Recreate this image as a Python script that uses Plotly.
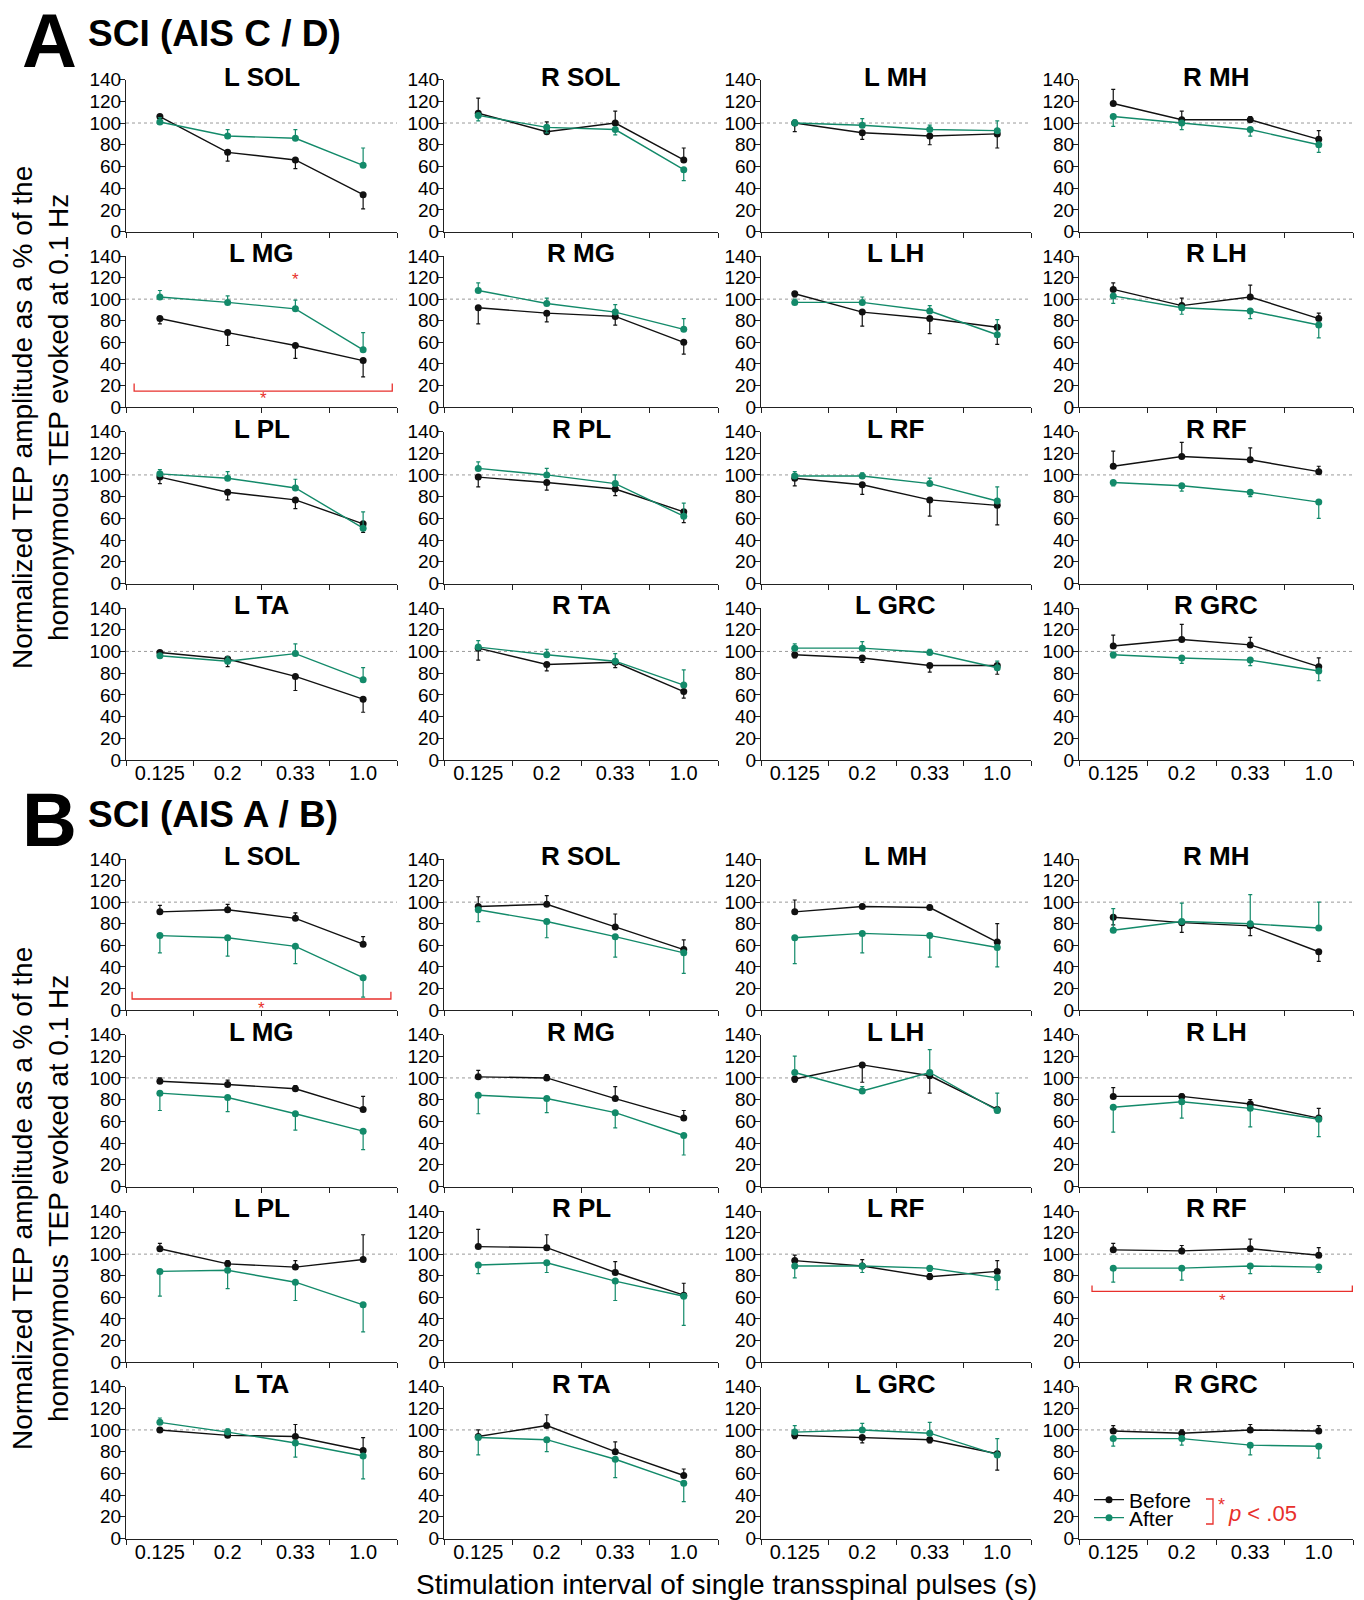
import plotly.graph_objects as go

# ---------------- data ----------------
categories = ["0.125", "0.2", "0.33", "1.0"]
muscles = ["L SOL", "R SOL", "L MH", "R MH",
           "L MG", "R MG", "L LH", "R LH",
           "L PL", "R PL", "L RF", "R RF",
           "L TA", "R TA", "L GRC", "R GRC"]

# Panel A: SCI (AIS C / D). Error values: + = bar drawn up, - = bar drawn down
A_before = [[106, 73, 66, 34], [109, 92, 100, 66], [100, 91, 88, 90], [118, 103, 103, 85],
            [82, 69, 57, 43], [92, 87, 84, 60], [105, 88, 82, 74], [109, 94, 102, 82],
            [98, 84, 77, 55], [98, 93, 87, 66], [97, 91, 77, 72], [108, 117, 114, 103],
            [99, 93, 77, 56], [103, 88, 90, 63], [97, 94, 87, 87], [105, 111, 106, 86]]
A_before_err = [[-3, -8, -8, -13], [14, 9, 11, 11], [-8, -6, -8, -13], [13, 8, 3, 8],
                [-5, -12, -12, -15], [-15, -8, -8, -11], [-3, -13, -14, -16], [6, 7, 11, 5],
                [-6, -7, -8, -8], [-9, -7, -6, -10], [-7, -9, -15, -18], [14, 13, 11, 5],
                [-2, -7, -13, -12], [-11, -6, -5, -6], [-3, -4, -6, -8], [10, 14, 7, 8]]
A_after = [[101, 88, 86, 61], [107, 96, 94, 57], [100, 98, 94, 93], [106, 100, 94, 80],
           [102, 97, 91, 53], [108, 96, 88, 72], [97, 97, 89, 67], [103, 92, 89, 76],
           [101, 97, 88, 51], [106, 100, 92, 62], [99, 99, 92, 76], [93, 90, 84, 75],
           [96, 91, 98, 74], [104, 97, 91, 69], [103, 103, 99, 85], [97, 94, 92, 82]]
A_after_err = [[4, 6, 8, 16], [-5, -5, -5, -10], [3, 6, 4, 9], [-9, -6, -6, -7],
               [6, 6, 8, 16], [7, 5, 7, 10], [3, 5, 5, 14], [-7, -6, -7, -12],
               [4, 6, 8, 15], [6, 6, 8, 12], [4, 3, 5, 13], [-3, -5, -4, -15],
               [2, 4, 9, 11], [6, 5, 7, 14], [4, 6, 3, 6], [-3, -5, -5, -9]]

# Panel B: SCI (AIS A / B)
B_before = [[91, 93, 85, 61], [96, 98, 77, 56], [91, 96, 95, 63], [86, 81, 78, 54],
            [97, 94, 90, 71], [101, 100, 81, 63], [99, 112, 102, 71], [83, 83, 76, 63],
            [105, 91, 88, 95], [107, 106, 83, 62], [94, 89, 79, 84], [104, 103, 105, 99],
            [100, 95, 94, 81], [94, 104, 80, 58], [95, 93, 91, 78], [99, 97, 100, 99]]
B_before_err = [[6, 5, 5, 7], [9, 8, 12, 9], [11, 2, 2, 17], [-7, -9, -9, -9],
                [3, 4, 3, 12], [6, 3, 11, 7], [-3, -16, -16, -3], [8, 2, 4, 9],
                [5, 3, 6, 23], [16, 12, 10, 11], [5, 6, 3, 10], [6, 5, 9, 7],
                [2, 3, 11, 12], [6, 10, 9, 6], [-3, -5, -3, -15], [5, 3, 5, 5]]
B_after = [[69, 67, 59, 30], [93, 82, 68, 53], [67, 71, 69, 58], [74, 82, 80, 76],
           [86, 82, 67, 51], [84, 81, 68, 47], [105, 88, 105, 70], [73, 78, 72, 62],
           [84, 85, 74, 53], [90, 92, 75, 61], [89, 89, 87, 78], [87, 87, 89, 88],
           [107, 98, 88, 76], [93, 91, 73, 51], [98, 100, 97, 77], [92, 92, 86, 85]]
B_after_err = [[-16, -17, -16, -18], [-11, -15, -19, -19], [-24, -18, -20, -18], [20, 17, 27, 24],
               [-16, -13, -15, -17], [-17, -13, -14, -18], [15, 4, 21, 16], [-23, -15, -17, -16],
               [-23, -17, -17, -25], [-8, -9, -18, -27], [-11, -6, -3, -11], [-13, -11, -7, -5],
               [4, 3, -13, -21], [-16, -11, -17, -17], [6, 6, 10, 15], [-7, -6, -9, -11]]

series_names = ["Before", "After"]
panel_titles = ["SCI (AIS C / D)", "SCI (AIS A / B)"]
panel_letters = ["A", "B"]
y_ticks = [0, 20, 40, 60, 80, 100, 120, 140]

# ---------------- style / layout ----------------
W, H = 1364, 1600
FONT = "Liberation Sans, Arial, Helvetica, sans-serif"
BLACK = "#111111"
GREEN = "#138a6a"
RED = "#e8302c"
AXC = "#222222"

col_px = [(126, 397), (444, 718), (761, 1031), (1079, 1353)]
row_px = [[(79.6, 231.6), (256, 407), (431.5, 583.5), (608, 760)],
          [(859, 1010), (1034.5, 1186.5), (1211, 1362), (1386.5, 1538.5)]]


def fx(x):
    return x / W


def fy(y):
    return 1 - y / H


def split_err(err):
    return [max(e, 0) for e in err], [max(-e, 0) for e in err]


fig = go.Figure()
layout = dict(width=W, height=H, margin=dict(l=0, r=0, t=0, b=0, autoexpand=False),
              paper_bgcolor="white", plot_bgcolor="white",
              font=dict(family=FONT, color="black"))
shapes = []
annotations = []

panels = [(A_before, A_before_err, A_after, A_after_err),
          (B_before, B_before_err, B_after, B_after_err)]

idx = 0
for p, (bef, beferr, aft, afterr) in enumerate(panels):
    for k, muscle in enumerate(muscles):
        idx += 1
        r, c = divmod(k, 4)
        xname = "x" if idx == 1 else f"x{idx}"
        yname = "y" if idx == 1 else f"y{idx}"
        xkey = "xaxis" if idx == 1 else f"xaxis{idx}"
        ykey = "yaxis" if idx == 1 else f"yaxis{idx}"
        x0, x1 = col_px[c]
        ytop, ybot = row_px[p][r]
        last = (idx == 32)
        for j, (name, vals, err, color) in enumerate([(series_names[0], bef[k], beferr[k], BLACK),
                                                      (series_names[1], aft[k], afterr[k], GREEN)]):
            up, down = split_err(err)
            fig.add_trace(go.Scatter(
                x=categories, y=vals, mode="lines+markers", name=name,
                xaxis=xname, yaxis=yname, showlegend=last,
                legend="legend" if j == 0 else "legend2",
                line=dict(color=color, width=1.4),
                marker=dict(color=color, size=7, symbol="circle"),
                error_y=dict(type="data", symmetric=False, array=up, arrayminus=down,
                             color=color, thickness=1.2, width=2),
                cliponaxis=False,
            ))
        bottom_row = (r == 3)
        layout[xkey] = dict(domain=[fx(x0), fx(x1)], anchor=yname, type="category",
                            range=[-0.5, 3.5], showline=True, linecolor=AXC, linewidth=1.2,
                            ticks="outside", tickson="boundaries", ticklen=5, tickcolor=AXC,
                            showgrid=False, zeroline=False, showticklabels=bottom_row,
                            ticklabelstandoff=-5,
                            tickfont=dict(size=20, family=FONT, color="black"),
                            fixedrange=True)
        layout[ykey] = dict(domain=[fy(ybot), fy(ytop)], anchor=xname, range=[0, 140],
                            tickmode="array", tickvals=y_ticks, showline=True,
                            linecolor=AXC, linewidth=1.2, ticks="outside", ticklen=5,
                            tickcolor=AXC, showgrid=False, zeroline=False,
                            ticklabelstandoff=-5,
                            tickfont=dict(size=19, family=FONT, color="black"),
                            fixedrange=True)
        # reference line at 100 %
        shapes.append(dict(type="line", xref=f"{xname} domain", yref=yname,
                           x0=0, x1=1, y0=100, y1=100, layer="below",
                           line=dict(color="#9a9a9a", width=1, dash="dot")))
        # subplot title
        annotations.append(dict(text=f"<b>{muscle}</b>", xref=f"{xname} domain", yref=yname,
                                x=0.5, y=140, xanchor="center", yanchor="middle", yshift=3,
                                showarrow=False, font=dict(size=26, family=FONT, color="black")))

# ---- significance markers ----
def bracket(ax, ay, xl, xr, yl, yt, ystar):
    shapes.append(dict(type="path", xref=ax, yref=ay,
                       path=f"M {xl},{yt} L {xl},{yl} L {xr},{yl} L {xr},{yt}",
                       line=dict(color=RED, width=1.3)))
    annotations.append(dict(text="*", xref=ax, yref=ay, x=(xl + xr) / 2, y=ystar,
                            showarrow=False, font=dict(size=17, color=RED, family=FONT)))

bracket("x5", "y5", -0.38, 3.43, 14.8, 21.7, 7.5)
annotations.append(dict(text="*", xref="x5", yref="y5", x=2, y=118, showarrow=False,
                        font=dict(size=17, color=RED, family=FONT)))
bracket("x17", "y17", -0.41, 3.41, 10.2, 17, 1.5)
bracket("x28", "y28", -0.31, 3.49, 65.5, 71, 57)

# ---- panel labels ----
for p in range(2):
    base = [0, 780][p]
    annotations.append(dict(text=f"<b>{panel_letters[p]}</b>", xref="paper", yref="paper",
                            x=fx(20), y=fy(base + 40), xanchor="left", yanchor="middle",
                            showarrow=False, font=dict(size=76, family=FONT, color="black")))
    annotations.append(dict(text=f"<b>{panel_titles[p]}</b>", xref="paper", yref="paper",
                            x=fx(86), y=fy(base + 34), xanchor="left", yanchor="middle",
                            showarrow=False, font=dict(size=37, family=FONT, color="black")))
    annotations.append(dict(text="Normalized TEP amplitude as a % of the<br>homonymous TEP evoked at 0.1 Hz",
                            xref="paper", yref="paper", x=fx(40), y=fy([418, 1199][p]),
                            xanchor="center", yanchor="middle", textangle=-90,
                            showarrow=False, font=dict(size=28, family=FONT, color="black")))

annotations.append(dict(text="Stimulation interval of single transspinal pulses (s)",
                        xref="paper", yref="paper", x=fx(726), y=fy(1584),
                        xanchor="center", yanchor="middle", showarrow=False,
                        font=dict(size=28, family=FONT, color="black")))

# ---- legend p-value note ----
shapes.append(dict(type="path", xref="paper", yref="paper",
                   path=f"M {fx(1206)},{fy(1499)} L {fx(1213)},{fy(1499)} L {fx(1213)},{fy(1524)} L {fx(1206)},{fy(1524)}",
                   line=dict(color=RED, width=1.3)))
annotations.append(dict(text="*", xref="paper", yref="paper", x=fx(1216), y=fy(1505),
                        xanchor="left", yanchor="middle", showarrow=False,
                        font=dict(size=18, color=RED, family=FONT)))
annotations.append(dict(text="<i>p</i> &lt; .05", xref="paper", yref="paper", x=fx(1226), y=fy(1513),
                        xanchor="left", yanchor="middle", showarrow=False,
                        font=dict(size=22, color=RED, family=FONT)))

layout["shapes"] = shapes
layout["annotations"] = annotations
layout["showlegend"] = True
leg_style = dict(xanchor="left", yanchor="middle", bgcolor="rgba(0,0,0,0)", borderwidth=0,
                 itemwidth=30, tracegroupgap=0, font=dict(size=21, family=FONT, color="black"))
layout["legend"] = dict(x=fx(1089), y=fy(1500), **leg_style)
layout["legend2"] = dict(x=fx(1089), y=fy(1518), **leg_style)
fig.update_layout(**layout)
fig.write_html("out.html", config={"displayModeBar": False},
               post_script="document.body.style.margin='0';")
